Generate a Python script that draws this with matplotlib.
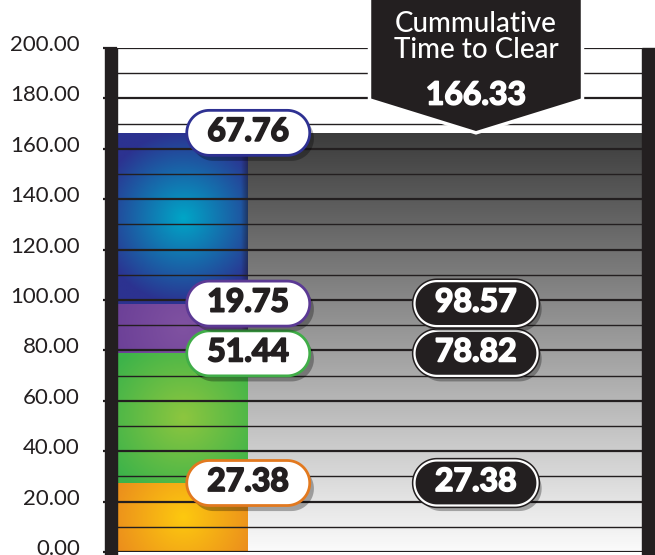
import numpy as np
import matplotlib.pyplot as plt
import matplotlib.patheffects as pe
from matplotlib.patches import Polygon, Rectangle
from matplotlib.transforms import ScaledTranslation
from matplotlib.colors import to_rgb

plt.rcParams['font.family'] = ['Lato', 'DejaVu Sans']

# values per stacked segment (bottom -> top)
segment_values = [27.38, 51.44, 19.75, 67.76]
segment_centers = ['#fdc90f', '#8dc63f', '#8052a1', '#00a6c7']
segment_edges = ['#e8831f', '#3cb34a', '#673c95', '#2c3290']
segment_borders = ['#e2791f', '#40ad48', '#5b3994', '#2e3192']
cumulative = np.round(np.cumsum(segment_values), 2)   # 27.38, 78.82, 98.57, 166.33
total = cumulative[-1]
y_ticks = np.arange(0, 201, 20)
y_grid = np.arange(0, 201, 10)
callout_title = 'Cummulative\nTime to Clear'

INK = '#231f20'
W, H = 655, 555
fig = plt.figure(figsize=(W / 100, H / 100), dpi=100)
ax_l, ax_r, ax_b, ax_t = 117, 642, 552, 48   # axes box in pixels
ax = fig.add_axes([ax_l / W, (H - ax_b) / H, (ax_r - ax_l) / W, (ax_b - ax_t) / H])
px_x = (ax_r - ax_l) / 4.0
px_y = (ax_b - ax_t) / 200.0


def radial(c0, c1, w_px, h_px, radius=85):
    ny, nx = max(int(h_px), 2), max(int(w_px), 2)
    yy, xx = np.mgrid[0:ny, 0:nx]
    t = np.clip(np.hypot(xx - nx / 2, yy - ny / 2) / radius, 0, 1)[..., None]
    return np.array(to_rgb(c0)) * (1 - t) + np.array(to_rgb(c1)) * t


# left stacked bar with radial gradients
bottoms = np.concatenate([[0], cumulative[:-1]])
bars = ax.bar([0] * 4, segment_values, bottom=bottoms, width=1, align='edge',
              color='none', linewidth=0, zorder=1)
for b, c0, c1 in zip(bars, segment_centers, segment_edges):
    x0, y0 = b.get_x(), b.get_y()
    w, h = b.get_width(), b.get_height()
    img = radial(c0, c1, w * px_x, h * px_y)
    im = ax.imshow(img, extent=[x0, x0 + w, y0, y0 + h], origin='lower',
                   aspect='auto', zorder=1, interpolation='bilinear')
    im.set_clip_path(b)

# right cumulative bar with vertical gradient
rbar = ax.bar([1], [total], width=3, align='edge', color='none', linewidth=0, zorder=1)[0]
g = np.linspace(0.985, 0.235, 200)[:, None, None] * np.ones((1, 2, 3))
im = ax.imshow(g, extent=[1, 4, 0, total], origin='lower', aspect='auto',
               zorder=1, interpolation='bilinear')
im.set_clip_path(rbar)

# soft dark seam between the two bars
seam = np.linspace(0, 0.45, 20)[None, :, None] * np.ones((2, 1, 1))
seam_img = np.concatenate([np.zeros((2, 20, 3)) + 0.1, seam], axis=2)
ax.imshow(seam_img, extent=[1 - 7 / px_x, 1, cumulative[1], total], origin='lower',
          aspect='auto', zorder=2, interpolation='bilinear')

# horizontal rules
for v in y_grid:
    ax.axhline(v, color=INK, lw=1.6 if v % 20 == 0 else 1.0, zorder=3)

ax.set_xlim(0, 4)
ax.set_ylim(0, 200)
ax.set_xticks([])
ax.set_yticks(y_ticks)
ax.set_yticklabels([f'{v:.2f}' for v in y_ticks])
ax.tick_params(axis='y', length=10.2, width=1.6, color=INK, pad=16.5,
               labelsize=16, labelcolor=INK)
for lab in ax.get_yticklabels():
    lab.set_transform(lab.get_transform() + ScaledTranslation(0, 0.05, fig.dpi_scale_trans))
for s in ax.spines.values():
    s.set_visible(False)

# thick side posts
fig.patches.append(Rectangle((105 / W, 0), 12 / W, (H - ax_t) / H, transform=fig.transFigure,
                             color=INK, zorder=5))
fig.patches.append(Rectangle((ax_r / W, 0), (W - ax_r) / W, (H - ax_t) / H,
                             transform=fig.transFigure, color=INK, zorder=5))


def pill(x, y, text, face, edge, tcolor, lw, outer=None):
    w_px, h_px = 123, 45
    r = h_px / 2
    a = np.linspace(-np.pi / 2, np.pi / 2, 40)
    xs = np.concatenate([w_px / 2 - r + r * np.cos(a), -(w_px / 2 - r) - r * np.cos(a)])
    ys = np.concatenate([r * np.sin(a), -r * np.sin(a)])
    effects = [pe.SimplePatchShadow(offset=(3, -4), shadow_rgbFace='k', alpha=0.3)]
    if outer:
        effects.append(pe.Stroke(linewidth=lw + 2.2, foreground=outer))
    effects.append(pe.Normal())
    p = Polygon(np.c_[x + xs / px_x, y + ys / px_y], closed=True, fc=face, ec=edge,
                lw=lw, zorder=6, clip_on=False, path_effects=effects)
    ax.add_patch(p)
    ax.text(x, y + 0.6, text, ha='center', va='center', fontsize=23,
            fontweight='bold', color=tcolor, zorder=7,
            path_effects=[pe.withStroke(linewidth=1.3, foreground=tcolor)])


left_x = 1.0
right_x = (476 - ax_l) / px_x
for top, val, col in zip(cumulative, segment_values, segment_borders):
    pill(left_x, top, f'{val:.2f}', 'white', col, INK, 2.0)
for top in cumulative[:-1]:
    pill(right_x, top, f'{top:.2f}', INK, 'white', 'white', 1.6, outer=INK)

# callout
hw = (583 - 370) / 2 / px_x
shoulder = total + 33 / px_y
callout = Polygon([(right_x - hw, 240), (right_x - hw, shoulder), (right_x, total),
                   (right_x + hw, shoulder), (right_x + hw, 240)],
                  closed=True, fc=INK, ec='white', lw=2.5, zorder=8, clip_on=False)
ax.add_patch(callout)
ax.text(right_x, total + 38, callout_title, ha='center', va='center', color='white',
        fontsize=20, fontweight='medium', linespacing=1.0, zorder=9, clip_on=False)
ax.text(right_x, total + 15, f'{total:.2f}', ha='center', va='center', color='white',
        fontsize=23, fontweight='bold', zorder=9, clip_on=False,
        path_effects=[pe.withStroke(linewidth=1.2, foreground='white')])

fig.savefig('out.png', dpi=100)
